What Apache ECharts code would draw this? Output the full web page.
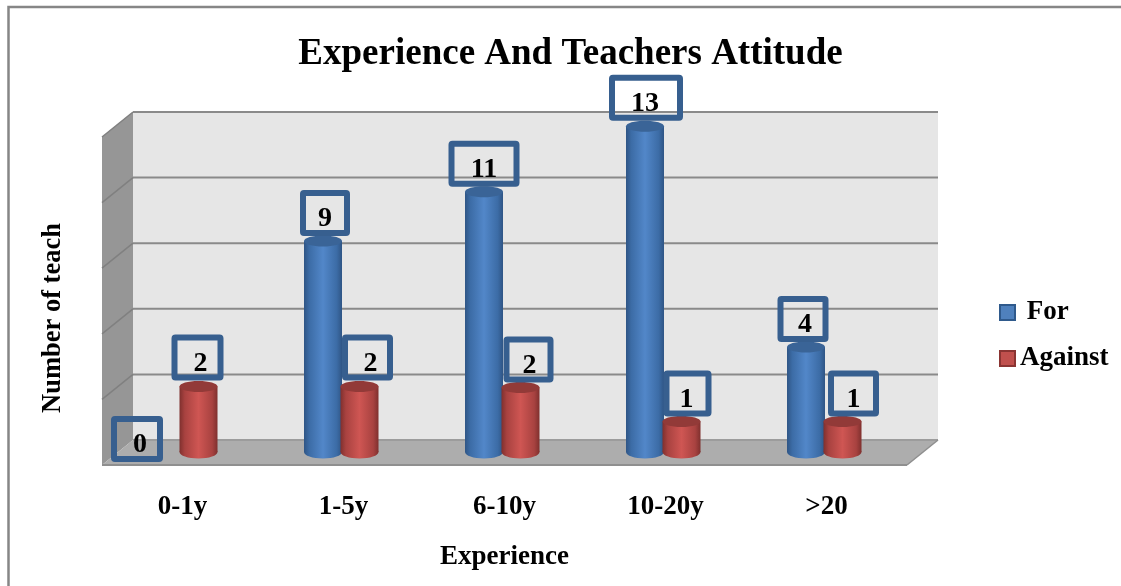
<!DOCTYPE html>
<html>
<head>
<meta charset="utf-8">
<title>Experience And Teachers Attitude</title>
<style>
  html, body { margin: 0; padding: 0; background: #fff; }
  #main { width: 1121px; height: 586px; }
</style>
<script src="https://cdn.jsdelivr.net/npm/echarts@6/dist/echarts.min.js"></script>
</head>
<body>
<div id="main"></div>
<script>
// data
var categories = ['0-1y', '1-5y', '6-10y', '10-20y', '>20'];
// drawn bar heights on the hidden 0-15 axis (the drawn bars do not follow the printed numbers)
var forValues = [0, 9.65, 11.9, 14.9, 4.8];
var againstValues = [3, 3, 2.95, 1.4, 1.4];
// numbers printed in the boxes
var forLabels = [0, 9, 11, 13, 4];
var againstLabels = [2, 2, 2, 1, 1];
var tickValues = [0, 3, 6, 9, 12, 15];

// style and layout
var serif = '"Liberation Serif", serif';
var depthX = 31, depthY = 25;
var barOffset = { For: -20.5, Against: 16 };
var barRadius = 19, capRadius = 5.5, baseLift = 13;
// hand placed boxes: dx from bar centre, width, dy from bar top, dx of the number inside
var forBoxes = [[-25, 52, -13, 3], [2, 50, -28, 0], [0, 71, -28, 0], [1, 74, -28.5, -1], [-3, 51, -28, 2]];
var againstBoxes = [[-1, 52, -29, 3], [8, 51, -29, 3], [8, 50, -28, 1], [6, 48, -28, -1], [11, 51, -28, 0]];

function cylinderFill(stops) {
  return {
    type: 'linear', x: 0, y: 0, x2: 1, y2: 0,
    colorStops: [
      { offset: 0, color: stops[0] },
      { offset: 0.14, color: stops[1] },
      { offset: 0.5, color: stops[2] },
      { offset: 0.86, color: stops[1] },
      { offset: 1, color: stops[0] }
    ]
  };
}

var blueFill = cylinderFill(['#2f5585', '#3c6ca6', '#5287c9']);
var redFill = cylinderFill(['#7f302e', '#a84240', '#cf5653']);

function renderWalls(params, api) {
  var rect = params.coordSys;
  var left = rect.x, right = rect.x + rect.width, top = rect.y, bottom = rect.y + rect.height;
  var tick = api.value(1);
  var y = api.coord([0, tick])[1];
  var children = [];
  if (tick === 0) {
    children.push({
      type: 'polygon',
      shape: { points: [[left + depthX, top - depthY], [right + depthX, top - depthY], [right + depthX, bottom - depthY], [left + depthX, bottom - depthY]] },
      style: { fill: '#e6e6e6' }
    });
    children.push({
      type: 'polygon',
      shape: { points: [[left, top], [left + depthX, top - depthY], [left + depthX, bottom - depthY], [left, bottom]] },
      style: { fill: '#969696' }
    });
    children.push({
      type: 'polygon',
      shape: { points: [[left, bottom], [left + depthX, bottom - depthY], [right + depthX, bottom - depthY], [right, bottom]] },
      style: { fill: '#adadad' }
    });
    children.push({
      type: 'line',
      shape: { x1: left, y1: bottom, x2: right, y2: bottom },
      style: { stroke: '#8f8f8f', lineWidth: 2 }
    });
    children.push({
      type: 'line',
      shape: { x1: left + depthX, y1: bottom - depthY, x2: right + depthX, y2: bottom - depthY },
      style: { stroke: '#9c9c9c', lineWidth: 2 }
    });
    children.push({
      type: 'line',
      shape: { x1: right, y1: bottom, x2: right + depthX, y2: bottom - depthY },
      style: { stroke: '#8f8f8f', lineWidth: 1.5 }
    });
    return { type: 'group', children: children };
  }
  children.push({
    type: 'line',
    shape: { x1: left + depthX, y1: y - depthY, x2: right + depthX, y2: y - depthY },
    style: { stroke: '#8a8a8a', lineWidth: 2 }
  });
  children.push({
    type: 'line',
    shape: { x1: left, y1: y, x2: left + depthX, y2: y - depthY },
    style: { stroke: '#808080', lineWidth: 1.5 }
  });
  return { type: 'group', children: children };
}

function renderCylinder(offset, bodyFill, capFill) {
  return function (params, api) {
    var value = api.value(1);
    if (!value) {
      return null;
    }
    var base = api.coord([api.value(0), 0]);
    var head = api.coord([api.value(0), value]);
    var cx = base[0] + offset;
    var baseY = base[1] - baseLift;
    var topY = head[1] - baseLift;
    return {
      type: 'group',
      children: [
        {
          type: 'ellipse',
          shape: { cx: cx, cy: baseY, rx: barRadius, ry: capRadius + 1 },
          style: { fill: bodyFill }
        },
        {
          type: 'rect',
          shape: { x: cx - barRadius, y: topY, width: barRadius * 2, height: baseY - topY },
          style: { fill: bodyFill }
        },
        {
          type: 'ellipse',
          shape: { cx: cx, cy: topY, rx: barRadius, ry: capRadius },
          style: { fill: capFill }
        }
      ]
    };
  };
}

function renderBoxes(offset, texts, boxes) {
  return function (params, api) {
    var i = api.value(0);
    var head = api.coord([i, api.value(1)]);
    var box = boxes[i];
    var cx = head[0] + offset + box[0];
    var cy = head[1] - baseLift + box[2];
    var w = box[1], h = 46;
    return {
      type: 'group',
      children: [
        {
          type: 'rect',
          shape: { x: cx - w / 2 + 3, y: cy - h / 2 + 3, width: w - 6, height: h - 6, r: 1 },
          style: { fill: 'transparent', stroke: '#375f8f', lineWidth: 6 }
        },
        {
          type: 'text',
          style: {
            x: cx + box[3], y: cy + 6,
            text: String(texts[i]),
            fill: '#000',
            font: 'bold 28px ' + serif,
            align: 'center', verticalAlign: 'middle'
          }
        }
      ]
    };
  };
}

function toRows(values) {
  return values.map(function (v, i) { return [i, v]; });
}

var myChart = echarts.init(document.getElementById('main'));
myChart.setOption({
  animation: false,
  backgroundColor: '#fff',
  title: {
    text: 'Experience And Teachers Attitude',
    left: 565.5, top: 31, textAlign: 'center',
    textStyle: { fontFamily: serif, fontWeight: 'bold', fontSize: 37, color: '#000' }
  },
  legend: {
    orient: 'vertical',
    left: 994, top: 294,
    itemWidth: 15, itemHeight: 15, itemGap: 19,
    icon: 'rect',
    selectedMode: false,
    data: [
      { name: 'For', itemStyle: { color: '#4f81bd', borderColor: '#2f5a8c', borderWidth: 2 } },
      { name: 'Against', itemStyle: { color: '#c0504d', borderColor: '#8a3432', borderWidth: 2 } }
    ],
    formatter: function (name) { return name === 'For' ? ' ' + name : name; },
    textStyle: { fontFamily: serif, fontWeight: 'bold', fontSize: 27, color: '#000' }
  },
  grid: { left: 102, right: 214, top: 137, bottom: 121 },
  xAxis: {
    type: 'category',
    data: categories,
    name: 'Experience',
    nameLocation: 'middle',
    nameGap: 79,
    nameTextStyle: { fontFamily: serif, fontWeight: 'bold', fontSize: 27, color: '#000' },
    axisLine: { show: false },
    axisTick: { show: false },
    axisLabel: {
      margin: 29,
      fontFamily: serif, fontWeight: 'bold', fontSize: 27, color: '#000'
    }
  },
  yAxis: {
    type: 'value',
    min: 0, max: 15, interval: 3,
    name: 'Number of teach',
    nameLocation: 'middle',
    nameGap: 35,
    nameTextStyle: { fontFamily: serif, fontWeight: 'bold', fontSize: 26.5, color: '#000', padding: [0, 34, 0, 0] },
    axisLine: { show: false },
    axisTick: { show: false },
    axisLabel: { show: false },
    splitLine: { show: false }
  },
  graphic: [{
    type: 'polyline',
    shape: { points: [[8.5, 586], [8.5, 7], [1121, 7]] },
    style: { stroke: '#868686', fill: 'transparent', lineWidth: 2.5 },
    silent: true
  }],
  series: [
    {
      name: 'walls', type: 'custom', coordinateSystem: 'cartesian2d', z: 1, silent: true,
      clip: false,
      data: tickValues.map(function (t) { return [0, t]; }),
      renderItem: renderWalls
    },
    {
      name: 'For', type: 'custom', coordinateSystem: 'cartesian2d', z: 2, clip: false,
      itemStyle: { color: '#4f81bd' },
      data: toRows(forValues),
      renderItem: renderCylinder(barOffset.For, blueFill, '#3a6497')
    },
    {
      name: 'Against', type: 'custom', coordinateSystem: 'cartesian2d', z: 3, clip: false,
      itemStyle: { color: '#c0504d' },
      data: toRows(againstValues),
      renderItem: renderCylinder(barOffset.Against, redFill, '#923a38')
    },
    {
      name: 'forBoxes', type: 'custom', coordinateSystem: 'cartesian2d', z: 4, clip: false, silent: true,
      data: toRows(forValues),
      renderItem: renderBoxes(barOffset.For, forLabels, forBoxes)
    },
    {
      name: 'againstBoxes', type: 'custom', coordinateSystem: 'cartesian2d', z: 4, clip: false, silent: true,
      data: toRows(againstValues),
      renderItem: renderBoxes(barOffset.Against, againstLabels, againstBoxes)
    }
  ]
});
</script>
</body>
</html>
